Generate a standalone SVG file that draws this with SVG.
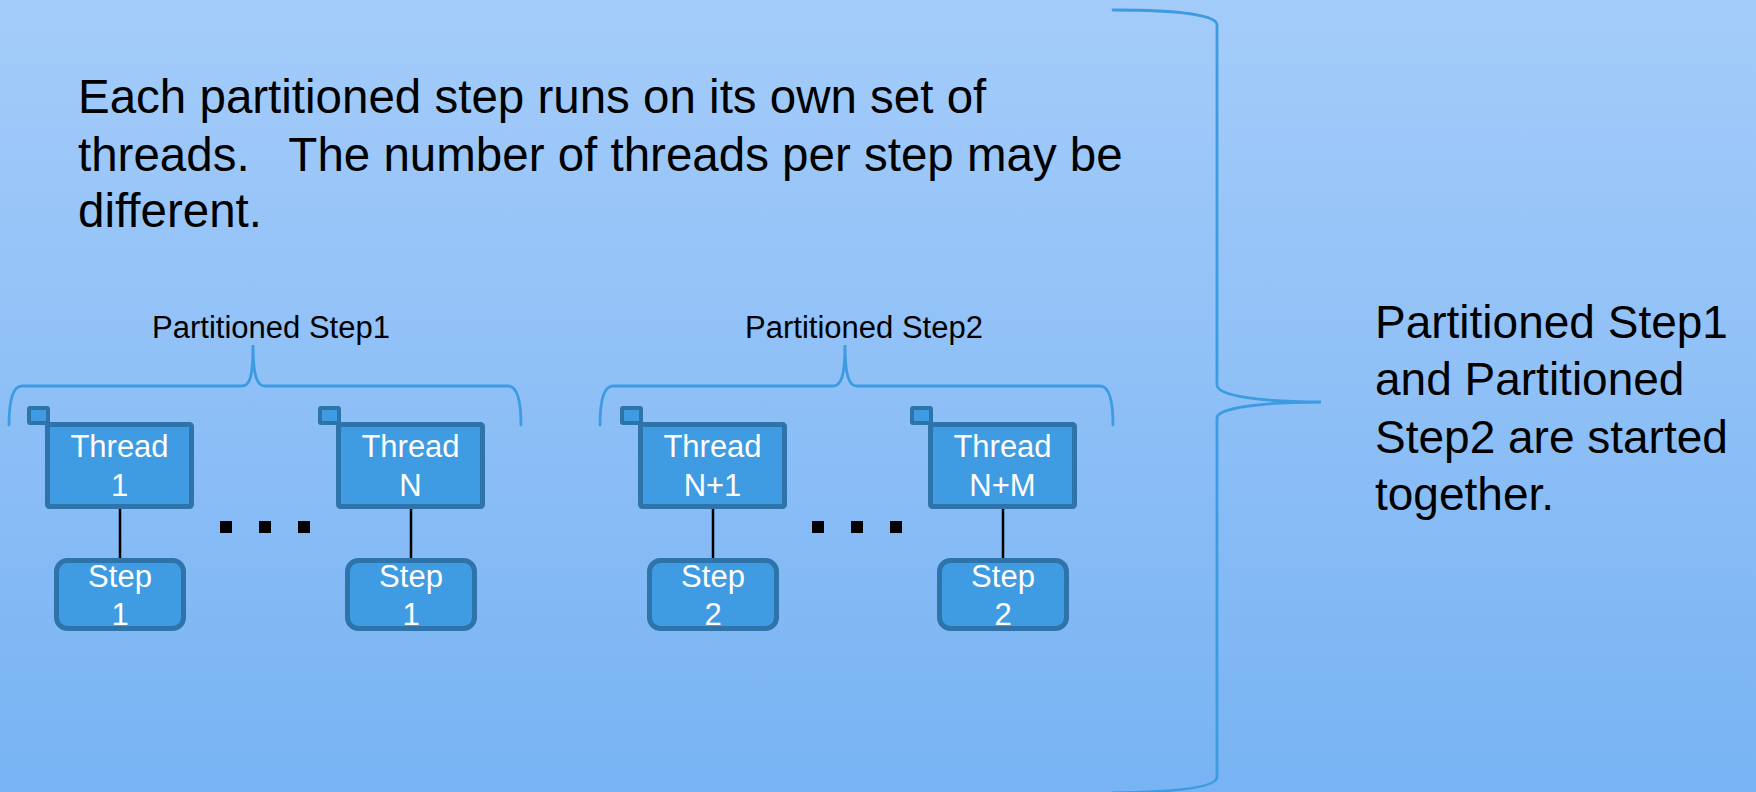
<svg xmlns="http://www.w3.org/2000/svg" width="1756" height="792" viewBox="0 0 1756 792">
<defs>
<linearGradient id="bg" x1="0" y1="0" x2="0" y2="1">
<stop offset="0" stop-color="#a4ccfa"/>
<stop offset="1" stop-color="#78b3f3"/>
</linearGradient>
<style>
.txt{font-family:"Liberation Sans",Arial,sans-serif;fill:#000}
.para{font-size:47.5px;white-space:pre}
.side{font-size:46px}
.lbl{font-size:31px;text-anchor:middle}
.brace{fill:none;stroke:#3d9be2;stroke-width:2.8;stroke-linecap:round}
.tbox{fill:#3f9be2;stroke:#2e73aa;stroke-width:5}
.sq{fill:#3f9be2;stroke:#2e73aa;stroke-width:4}
.wt{font-family:"Liberation Sans",Arial,sans-serif;font-size:31px;fill:#fff;text-anchor:middle}
.conn{stroke:#000;stroke-width:2.5}
.dot{fill:#000}
</style>
</defs>
<rect width="1756" height="792" fill="url(#bg)"/>

<g id="paragraph">
<text class="txt para" x="78" y="113">Each partitioned step runs on its own set of</text>
<text class="txt para" x="78" y="171">threads.   The number of threads per step may be</text>
<text class="txt para" x="78" y="227">different.</text>
</g>

<g id="braces">
<path class="brace" d="M9,425 C9,402 12,386 22,386 L242,386 C250,386 253,376 253,345 C253,376 257,386 265,386 L508,386 C518,386 521,402 521,425"/>
<path class="brace" d="M600,425 C600,402 603,386 613,386 L833,386 C841,386 845,376 845,345 C845,376 849,386 857,386 L1100,386 C1110,386 1113,402 1113,425"/>
<path class="brace" d="M1113,10 C1180,10 1217,15 1217,25 L1217,385 C1217,396 1262,402 1321,402 C1262,402 1217,408 1217,418 L1217,777 C1217,787 1180,792 1113,793"/>
</g>

<g id="labels">
<text class="txt lbl" x="271" y="338">Partitioned Step1</text>
<text class="txt lbl" x="864" y="338">Partitioned Step2</text>
</g>

<g id="side-text">
<text class="txt side" x="1375" y="338">Partitioned Step1</text>
<text class="txt side" x="1375" y="395">and Partitioned</text>
<text class="txt side" x="1375" y="453">Step2 are started</text>
<text class="txt side" x="1375" y="510">together.</text>
</g>

<g id="connectors">
<line class="conn" x1="120" y1="509" x2="120" y2="558"/>
<line class="conn" x1="411" y1="509" x2="411" y2="558"/>
<line class="conn" x1="713" y1="509" x2="713" y2="558"/>
<line class="conn" x1="1003" y1="509" x2="1003" y2="558"/>
</g>

<g id="thread1">
<rect class="sq" x="29" y="408" width="19" height="15" rx="1"/>
<rect class="tbox" x="47.5" y="424.5" width="144" height="82" rx="2"/>
<text class="wt" x="119.5" y="457">Thread</text>
<text class="wt" x="119.5" y="496">1</text>
</g>
<g id="threadN">
<rect class="sq" x="320" y="408" width="19" height="15" rx="1"/>
<rect class="tbox" x="338.5" y="424.5" width="144" height="82" rx="2"/>
<text class="wt" x="410.5" y="457">Thread</text>
<text class="wt" x="410.5" y="496">N</text>
</g>
<g id="threadN1">
<rect class="sq" x="622" y="408" width="19" height="15" rx="1"/>
<rect class="tbox" x="640.5" y="424.5" width="144" height="82" rx="2"/>
<text class="wt" x="712.5" y="457">Thread</text>
<text class="wt" x="712.5" y="496">N+1</text>
</g>
<g id="threadNM">
<rect class="sq" x="912" y="408" width="19" height="15" rx="1"/>
<rect class="tbox" x="930.5" y="424.5" width="144" height="82" rx="2"/>
<text class="wt" x="1002.5" y="457">Thread</text>
<text class="wt" x="1002.5" y="496">N+M</text>
</g>

<g id="step1a">
<rect class="tbox" x="56.5" y="560.5" width="127" height="68" rx="11"/>
<text class="wt" x="120" y="587">Step</text>
<text class="wt" x="120" y="625">1</text>
</g>
<g id="step1b">
<rect class="tbox" x="347.5" y="560.5" width="127" height="68" rx="11"/>
<text class="wt" x="411" y="587">Step</text>
<text class="wt" x="411" y="625">1</text>
</g>
<g id="step2a">
<rect class="tbox" x="649.5" y="560.5" width="127" height="68" rx="11"/>
<text class="wt" x="713" y="587">Step</text>
<text class="wt" x="713" y="625">2</text>
</g>
<g id="step2b">
<rect class="tbox" x="939.5" y="560.5" width="127" height="68" rx="11"/>
<text class="wt" x="1003" y="587">Step</text>
<text class="wt" x="1003" y="625">2</text>
</g>

<g id="ellipsis1">
<rect class="dot" x="220" y="521" width="12" height="12"/>
<rect class="dot" x="259" y="521" width="12" height="12"/>
<rect class="dot" x="298" y="521" width="12" height="12"/>
</g>
<g id="ellipsis2">
<rect class="dot" x="812" y="521" width="12" height="12"/>
<rect class="dot" x="851" y="521" width="12" height="12"/>
<rect class="dot" x="890" y="521" width="12" height="12"/>
</g>
</svg>
